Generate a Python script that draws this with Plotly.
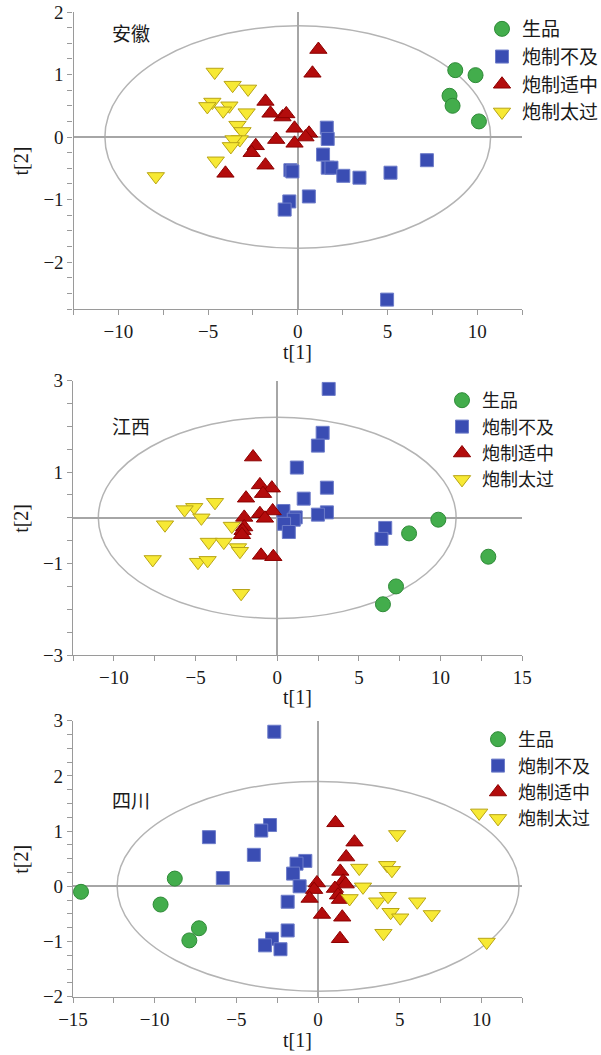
import plotly.graph_objects as go

groups = ["生品", "炮制不及", "炮制适中", "炮制太过"]
regions = ["安徽", "江西", "四川"]

# ---- 安徽 score values (t[1], t[2]) ----
ah_raw_t1 = [8.78, 9.91, 8.46, 8.63, 10.1]
ah_raw_t2 = [1.07, 0.99, 0.66, 0.50, 0.25]
ah_under_t1 = [1.62, 1.67, 1.41, 1.67, 1.88, 2.54, 3.44, 5.17, 7.2, -0.41, -0.30, -0.47, -0.73, 0.62, 4.98]
ah_under_t2 = [0.15, -0.03, -0.28, -0.49, -0.49, -0.62, -0.65, -0.57, -0.37, -0.53, -0.55, -1.03, -1.16, -0.95, -2.60]
ah_opt_t1 = [1.15, 0.82, -1.80, -1.52, -0.85, -0.64, -0.18, 0.63, 0.43, -1.20, -0.18, -2.34, -2.57, -1.80, -4.03]
ah_opt_t2 = [1.40, 1.02, 0.57, 0.38, 0.32, 0.37, 0.14, 0.06, 0.0, -0.04, -0.10, -0.14, -0.25, -0.45, -0.58]
ah_over_t1 = [-4.63, -3.63, -2.77, -4.76, -5.04, -3.81, -4.16, -2.85, -3.36, -3.08, -3.23, -3.58, -3.73, -4.57, -7.91]
ah_over_t2 = [1.04, 0.83, 0.77, 0.56, 0.49, 0.50, 0.42, 0.39, 0.19, 0.09, -0.04, -0.04, -0.15, -0.38, -0.63]

# ---- 江西 ----
jx_raw_t1 = [9.86, 8.07, 12.92, 7.27, 6.47]
jx_raw_t2 = [-0.04, -0.34, -0.85, -1.50, -1.89]
jx_under_t1 = [3.15, 2.78, 2.49, 1.20, 3.04, 1.62, 0.38, 3.04, 2.49, 1.13, 1.01, 0.42, 0.71, 6.61, 6.38]
jx_under_t2 = [2.82, 1.86, 1.58, 1.10, 0.66, 0.42, 0.15, 0.12, 0.07, 0.01, -0.04, -0.13, -0.31, -0.22, -0.46]
jx_opt_t1 = [-1.48, -1.06, -0.33, -0.87, -1.91, -0.28, -1.06, -0.75, -2.02, -2.02, -2.12, -2.16, -0.99, -0.24]
jx_opt_t2 = [1.33, 0.72, 0.65, 0.53, 0.43, 0.15, 0.09, -0.01, 0.01, -0.20, -0.28, -0.37, -0.82, -0.85]
jx_over_t1 = [-3.81, -5.08, -5.67, -4.64, -6.87, -2.78, -4.19, -3.27, -2.40, -2.28, -7.62, -4.85, -4.26, -2.21]
jx_over_t2 = [0.34, 0.23, 0.18, 0.0, -0.15, -0.18, -0.53, -0.53, -0.65, -0.73, -0.91, -0.97, -0.93, -1.65]

# ---- 四川 ----
sc_raw_t1 = [-14.51, -8.77, -9.64, -7.29, -7.88]
sc_raw_t2 = [-0.10, 0.14, -0.33, -0.76, -0.98]
sc_under_t1 = [-2.68, -2.94, -3.48, -6.68, -3.93, -5.83, -0.78, -1.32, -1.53, -1.13, -1.86, -1.86, -2.82, -3.25, -2.30]
sc_under_t2 = [2.80, 1.11, 1.01, 0.89, 0.57, 0.15, 0.46, 0.41, 0.23, 0.0, -0.28, -0.80, -0.95, -1.07, -1.14]
sc_opt_t1 = [1.06, 2.23, 1.72, 1.36, 1.53, 1.69, -0.07, -0.24, 1.03, 1.22, 1.34, -0.52, 0.24, 1.48, 1.34]
sc_opt_t2 = [1.15, 0.80, 0.53, 0.27, 0.09, 0.04, 0.06, -0.06, -0.04, -0.16, -0.24, -0.22, -0.51, -0.56, -0.95]
sc_over_t1 = [4.84, 2.52, 4.23, 4.52, 2.75, 1.93, 3.62, 4.28, 6.07, 4.44, 5.03, 6.96, 4.0, 10.32, 9.86]
sc_over_t2 = [0.94, 0.33, 0.38, 0.29, -0.01, -0.22, -0.28, -0.18, -0.28, -0.47, -0.57, -0.51, -0.85, -1.01, 1.33]

# Hotelling T2 ellipse semi-axes per region
ellipse_t1 = [10.75, 10.95, 12.3]
ellipse_t2 = [1.78, 2.2, 1.9]

scores = [
    [(ah_raw_t1, ah_raw_t2), (ah_under_t1, ah_under_t2), (ah_opt_t1, ah_opt_t2), (ah_over_t1, ah_over_t2)],
    [(jx_raw_t1, jx_raw_t2), (jx_under_t1, jx_under_t2), (jx_opt_t1, jx_opt_t2), (jx_over_t1, jx_over_t2)],
    [(sc_raw_t1, sc_raw_t2), (sc_under_t1, sc_under_t2), (sc_opt_t1, sc_opt_t2), (sc_over_t1, sc_over_t2)],
]

W, H = 601, 1055
SERIF = "Liberation Serif, Times New Roman, serif"
CJK = "Noto Sans CJK SC"

styles = [
    dict(symbol="circle", size=15, color="#43ad4c", line=dict(color="#2e8a37", width=1)),
    dict(symbol="square", size=13, color="#3a4db3", line=dict(color="#6d7cc9", width=1)),
    dict(symbol="triangle-up", size=15, color="#b30c0c", line=dict(color="#8c0000", width=1)),
    dict(symbol="triangle-down", size=15, color="#f7e934", line=dict(color="#b8a416", width=1)),
]

# panel geometry in pixels: (left, right, top, bottom)
panels_px = [(73.5, 522, 12, 309), (73, 522.3, 380.7, 655), (73, 522.3, 720.7, 996.7)]
x_ranges = [[-12.5, 12.5], [-12.5, 15], [-15, 12.5]]
y_ranges = [[-2.75, 2.0], [-3, 3], [-2, 3]]
y_tickvals = [[-2, -1, 0, 1, 2], [-3, -1, 1, 3], [-2, -1, 0, 1, 2, 3]]
y_minor = [0.25, 0.5, 0.25]
x_tickvals = [[-10, -5, 0, 5, 10], [-10, -5, 0, 5, 10, 15], [-15, -10, -5, 0, 5, 10]]
legend_px = [(482, 10), (442, 382), (478, 721)]
legend_fs = [19, 18, 18]
label_px = [(131, 32.7), (131, 425), (131, 799)]
xtitle_py = [352, 697, 1040]

fig = go.Figure()
layout = dict(width=W, height=H, margin=dict(l=0, r=0, t=0, b=0, autoexpand=False),
              paper_bgcolor="white", plot_bgcolor="white", shapes=[], annotations=[])


def paper_text(text, px, py, font, angle=0):
    return dict(text=text, x=px / W, y=1 - py / H, xref="paper", yref="paper",
                xanchor="center", yanchor="middle", textangle=angle,
                showarrow=False, font=font)


for p in range(3):
    sfx = "" if p == 0 else str(p + 1)
    xa, ya = "x" + sfx, "y" + sfx
    lg = "legend" + sfx
    for g in range(4):
        t1, t2 = scores[p][g]
        st = styles[g]
        fig.add_trace(go.Scatter(
            x=t1, y=t2, mode="markers", name=groups[g], xaxis=xa, yaxis=ya, legend=lg,
            marker=dict(symbol=st["symbol"], size=st["size"], color=st["color"], line=st["line"]),
            cliponaxis=False,
        ))
    l, r, t, b = panels_px[p]
    axis_common = dict(showgrid=False, showline=True, linecolor="#9a9a9a", linewidth=1.2,
                       ticks="outside", ticklen=5, tickcolor="#9a9a9a", tickwidth=1,
                       zeroline=True, zerolinecolor="#a6a6a6", zerolinewidth=1.5,
                       tickfont=dict(family=SERIF, size=19, color="#1a1a1a"), fixedrange=True)
    layout["xaxis" + sfx] = dict(axis_common, domain=[l / W, r / W], range=x_ranges[p],
                                 anchor=ya, tickvals=x_tickvals[p],
                                 minor=dict(dtick=2.5, tick0=0, ticks="outside", ticklen=5,
                                            tickcolor="#9a9a9a"))
    layout["yaxis" + sfx] = dict(axis_common, domain=[1 - b / H, 1 - t / H], range=y_ranges[p],
                                 anchor=xa, tickvals=y_tickvals[p],
                                 minor=dict(dtick=y_minor[p], tick0=0, ticks="outside", ticklen=5,
                                            tickcolor="#9a9a9a"))
    layout["shapes"].append(dict(type="circle", xref=xa, yref=ya,
                                 x0=-ellipse_t1[p], x1=ellipse_t1[p],
                                 y0=-ellipse_t2[p], y1=ellipse_t2[p],
                                 line=dict(color="#b4b4b4", width=1.5), layer="below"))
    lx, ly = legend_px[p]
    layout[lg] = dict(x=lx / W, y=1 - ly / H, xanchor="left", yanchor="top",
                      font=dict(family=CJK, size=legend_fs[p], color="#1a1a1a"),
                      bgcolor="rgba(0,0,0,0)", borderwidth=0, itemwidth=30,
                      itemclick=False, itemdoubleclick=False)
    ax, ay = label_px[p]
    layout["annotations"].append(paper_text(regions[p], ax, ay,
                                            dict(family=CJK, size=19, color="#1a1a1a")))
    layout["annotations"].append(paper_text("t[1]", (l + r) / 2, xtitle_py[p],
                                            dict(family=SERIF, size=20, color="#1a1a1a")))
    layout["annotations"].append(paper_text("t[2]", 21, (t + b) / 2,
                                            dict(family=SERIF, size=20, color="#1a1a1a"), angle=-90))

fig.update_layout(**layout)
fig.write_html("out.html")
